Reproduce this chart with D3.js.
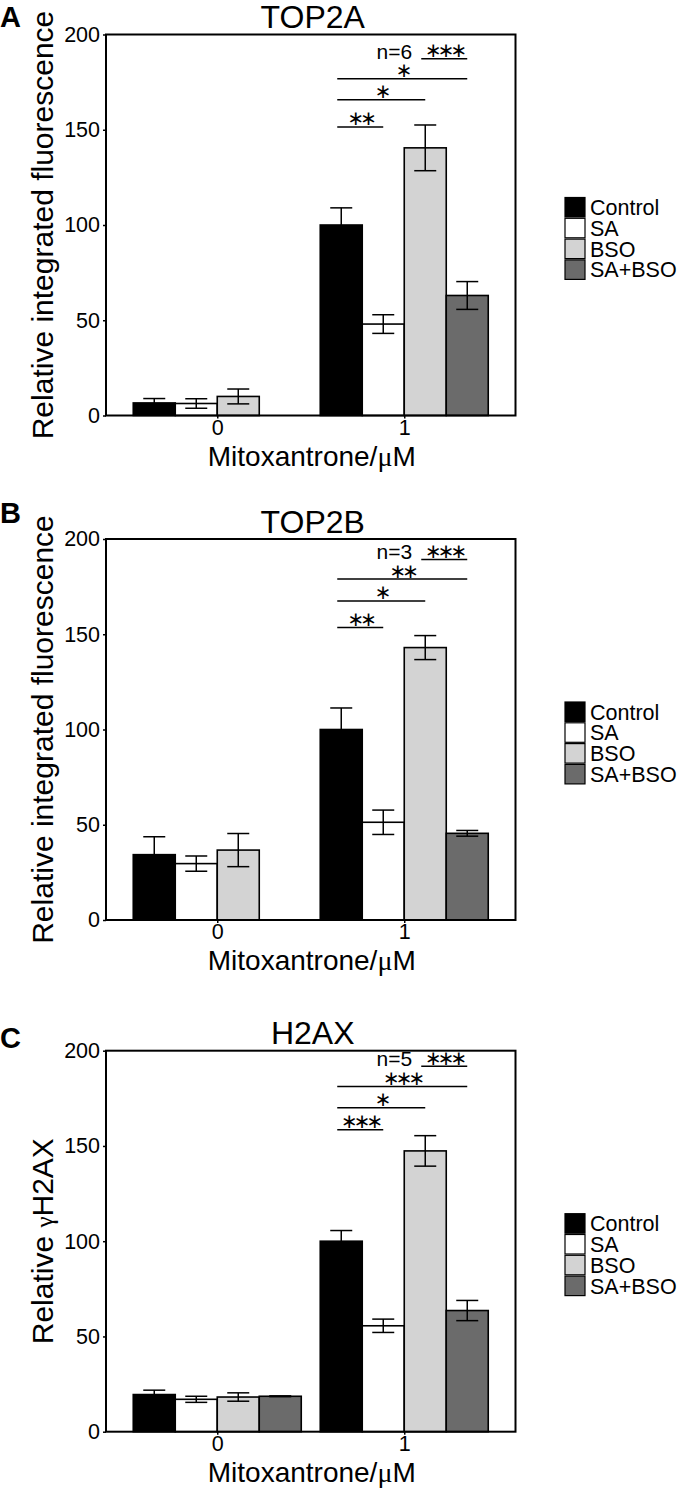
<!DOCTYPE html>
<html>
<head>
<meta charset="utf-8">
<script src="https://cdn.jsdelivr.net/npm/d3@7"></script>
<style>
  body { margin: 0; background: #fff; }
  svg { display: block; font-family: "Liberation Sans", Arial, sans-serif; }
</style>
</head>
<body>
<svg id="chart" width="690" height="1490"></svg>
<script>
/* ── data ─────────────────────────────────────────────────────────────── */

const DOSES = ["0", "1"];
const SERIES = ["Control", "SA", "BSO", "SA+BSO"];
const SERIES_COLORS = ["#000000", "#ffffff", "#d3d3d3", "#6b6b6b"];
const Y_TICKS = [0, 50, 100, 150, 200];

// means / SEM per dose: [Control, SA, BSO, SA+BSO]
const TOP2A_MEANS = [[6.6, 6.3, 10, null], [100, 48, 140.5, 63]];
const TOP2A_ERRORS = [[2.3, 2.5, 3.9, null], [9, 4.9, 12, 7.3]];
const TOP2A_SIG = [
  ["BSO", "SA+BSO", 187.3, "***"],
  ["Control", "SA+BSO", 176.8, "*"],
  ["Control", "BSO", 165.7, "*"],
  ["Control", "SA", 151.5, "**"],
];

const TOP2B_MEANS = [[34.3, 29.6, 36.7, null], [100, 51.3, 143, 45.5]];
const TOP2B_ERRORS = [[9.4, 4, 8.7, null], [11.3, 6.4, 6.3, 1.5]];
const TOP2B_SIG = [
  ["BSO", "SA+BSO", 189.3, "***"],
  ["Control", "SA+BSO", 179, "**"],
  ["Control", "BSO", 167.5, "*"],
  ["Control", "SA", 153.6, "**"],
];

const H2AX_MEANS = [[19.5, 17, 18.2, 18.6], [100, 55.6, 147.4, 63.6]];
const H2AX_ERRORS = [[2.3, 1.6, 2.2, 0.2], [5.6, 3.5, 8, 5.3]];
const H2AX_SIG = [
  ["BSO", "SA+BSO", 191.9, "***"],
  ["Control", "SA+BSO", 181.2, "***"],
  ["Control", "BSO", 170, "*"],
  ["Control", "SA", 158.5, "***"],
];

const PANELS = [
  { letter: "A", title: "TOP2A", n: 6, yLabel: ["Relative integrated fluorescence"],
    means: TOP2A_MEANS, errors: TOP2A_ERRORS, sig: TOP2A_SIG },
  { letter: "B", title: "TOP2B", n: 3, yLabel: ["Relative integrated fluorescence"],
    means: TOP2B_MEANS, errors: TOP2B_ERRORS, sig: TOP2B_SIG },
  { letter: "C", title: "H2AX", n: 5, yLabel: ["Relative ", "γ", "H2AX"],
    means: H2AX_MEANS, errors: H2AX_ERRORS, sig: H2AX_SIG },
];

/* ── layout ───────────────────────────────────────────────────────────── */

const svg = d3.select("#chart");
const PLOT_LEFT = 106;
const PLOT_RIGHT = 515.5;
const PLOT_H = 381;
const PANEL_TOPS = [34.5, 539, 1050.7];
const LETTER_Y = [27, 523, 1048];
const SERIF = "'Liberation Serif', 'DejaVu Serif', serif";

const xS = d3.scalePoint().domain(DOSES).range([PLOT_LEFT, PLOT_RIGHT]).padding(0.595);
const subS = d3.scaleBand().domain(SERIES).range([-84, 84]);
const colorS = d3.scaleOrdinal().domain(SERIES).range(SERIES_COLORS);

function drawPanel(p, idx) {
  const top = PANEL_TOPS[idx];
  const bottom = top + PLOT_H;
  const yS = d3.scaleLinear().domain([0, 200]).range([bottom, top]);
  const g = svg.append("g");

  const barData = [];
  DOSES.forEach((dose, i) => {
    SERIES.forEach((s, j) => {
      if (p.means[i][j] == null) return;
      barData.push({ dose, series: s, val: p.means[i][j], err: p.errors[i][j] });
    });
  });

  // bars
  g.selectAll("rect.bar")
    .data(barData)
    .enter()
    .append("rect")
    .attr("class", "bar")
    .attr("x", (d) => xS(d.dose) + subS(d.series))
    .attr("width", subS.bandwidth())
    .attr("y", (d) => yS(d.val))
    .attr("height", (d) => yS(0) - yS(d.val))
    .attr("fill", (d) => colorS(d.series))
    .attr("stroke", "#000")
    .attr("stroke-width", 1.6);

  // error bars (drawn over the bars; hidden inside black ones)
  const cx = (d) => xS(d.dose) + subS(d.series) + subS.bandwidth() / 2;
  const eb = g.selectAll("g.err").data(barData).enter().append("g").attr("class", "err")
    .attr("stroke", "#000").attr("stroke-width", 1.5);
  eb.append("line")
    .attr("x1", cx).attr("x2", cx)
    .attr("y1", (d) => yS(d.val + d.err)).attr("y2", (d) => yS(d.val - d.err));
  [1, -1].forEach((sgn) => {
    eb.append("line")
      .attr("x1", (d) => cx(d) - 11).attr("x2", (d) => cx(d) + 11)
      .attr("y1", (d) => yS(d.val + sgn * d.err)).attr("y2", (d) => yS(d.val + sgn * d.err));
  });

  // frame
  g.append("rect")
    .attr("x", PLOT_LEFT).attr("y", top)
    .attr("width", PLOT_RIGHT - PLOT_LEFT).attr("height", PLOT_H)
    .attr("fill", "none").attr("stroke", "#000").attr("stroke-width", 2);

  // axes
  const yAxis = g.append("g")
    .attr("transform", `translate(${PLOT_LEFT},0)`)
    .call(d3.axisLeft(yS).tickValues(Y_TICKS).tickSize(3).tickPadding(3));
  yAxis.select(".domain").remove();
  yAxis.selectAll("text").attr("font-size", 21.5).attr("fill", "#000").attr("font-family", null);
  yAxis.selectAll("line").attr("stroke-width", 1.5);

  const xAxis = g.append("g")
    .attr("transform", `translate(0,${bottom})`)
    .call(d3.axisBottom(xS).tickSize(3).tickPadding(1));
  xAxis.select(".domain").remove();
  xAxis.selectAll("text").attr("font-size", 21.5).attr("fill", "#000").attr("font-family", null);
  xAxis.selectAll("line").attr("stroke-width", 1.5);

  // axis labels
  const xl = g.append("text")
    .attr("x", (PLOT_LEFT + PLOT_RIGHT) / 2 + 1)
    .attr("y", bottom + 50)
    .attr("text-anchor", "middle")
    .attr("font-size", 28);
  xl.append("tspan").text("Mitoxantrone/");
  xl.append("tspan").attr("font-family", SERIF).text("μ");
  xl.append("tspan").text("M");

  const yl = g.append("text")
    .attr("transform", `translate(53,${top + PLOT_H / 2}) rotate(-90)`)
    .attr("text-anchor", "middle")
    .attr("font-size", 30);
  p.yLabel.forEach((part) => {
    const t = yl.append("tspan").text(part);
    if (part === "γ") t.attr("font-family", SERIF).attr("font-size", 25);
  });

  // title and panel letter
  g.append("text")
    .attr("x", (PLOT_LEFT + PLOT_RIGHT) / 2 + 2)
    .attr("y", top - 6.5)
    .attr("text-anchor", "middle")
    .attr("font-size", 32)
    .text(p.title);

  g.append("text")
    .attr("x", 0)
    .attr("y", LETTER_Y[idx])
    .attr("font-size", 29)
    .attr("font-weight", "bold")
    .text(p.letter);

  // significance brackets
  const center = (s) => xS("1") + subS(s) + subS.bandwidth() / 2;
  const sg = g.append("g");
  p.sig.forEach(([a, b, v, label]) => {
    const x1 = center(a) - 4;
    const x2 = center(b);
    sg.append("line")
      .attr("x1", x1).attr("x2", x2)
      .attr("y1", yS(v)).attr("y2", yS(v))
      .attr("stroke", "#000").attr("stroke-width", 1.5);
    sg.append("text")
      .attr("x", (x1 + x2) / 2)
      .attr("y", yS(v) - 1.5)
      .attr("text-anchor", "middle")
      .attr("font-family", "'DejaVu Sans', sans-serif")
      .attr("font-size", 20)
      .attr("letter-spacing", -4)
      .text(label.replace(/\*/g, "∗"));
  });
  const first = p.sig[0];
  sg.append("text")
    .attr("x", center(first[0]) - 13)
    .attr("y", yS(first[2]))
    .attr("text-anchor", "end")
    .attr("font-size", 21)
    .text("n=" + p.n);

  // legend
  const lg = g.append("g").attr("transform", `translate(565,${top + 163})`);
  SERIES.forEach((s, i) => {
    lg.append("rect")
      .attr("x", 0).attr("y", i * 20.8)
      .attr("width", 20).attr("height", 19.5)
      .attr("fill", colorS(s))
      .attr("stroke", "#000").attr("stroke-width", 1.2);
    lg.append("text")
      .attr("x", 25).attr("y", i * 20.8 + 17.5)
      .attr("font-size", 21.5)
      .text(s);
  });
}

PANELS.forEach((p, i) => drawPanel(p, i));
</script>
</body>
</html>
